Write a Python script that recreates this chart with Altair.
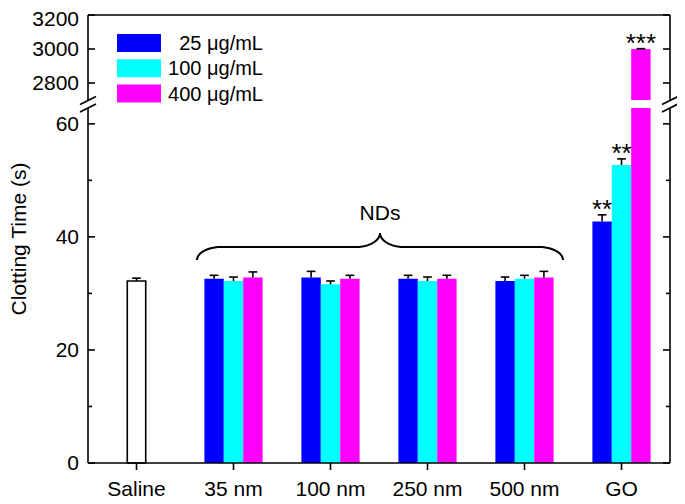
import math
import altair as alt
import pandas as pd

# ---------------- data ----------------
categories = ["Saline", "35 nm", "100 nm", "250 nm", "500 nm", "GO"]
series = ["25 μg/mL", "100 μg/mL", "400 μg/mL"]
colors = ["#0000FF", "#00FFFF", "#FF00FF"]

saline_mean = 32.2
saline_err = 0.5

# ND 35, 100, 250, 500 nm and GO
mean_25 = [32.6, 32.8, 32.6, 32.2, 42.7]
mean_100 = [32.2, 31.6, 32.2, 32.6, 52.7]
mean_400 = [32.8, 32.6, 32.6, 32.8, 3000]
err_25 = [0.6, 1.1, 0.6, 0.7, 1.2]
err_100 = [0.7, 0.6, 0.7, 0.6, 1.1]
err_400 = [1.0, 0.6, 0.6, 1.1, 2.0]

go_stars = ["**", "**", "***"]

y_ticks_major = [0, 20, 40, 60, 2800, 3000, 3200]
y_ticks_minor = [10, 30, 50]
y_title = "Clotting Time (s)"

BREAK_LOW = 62.8
BREAK_HIGH = 2700
Y_MAX = 3200

# ---------------- layout ----------------
W, H = 582, 448
FONT = "Liberation Sans"
LW = 1.6
BAR_W = 0.2
AX_FS = 21

y_scale = alt.Scale(domain=[0, BREAK_LOW, BREAK_HIGH, Y_MAX], range=[H, 93, 85, 0],
                    nice=False, zero=False)
x_scale = alt.Scale(domain=[-0.5, len(categories) - 0.5], nice=False, zero=False)
color_scale = alt.Scale(domain=series, range=colors)


def X(field, **kw):
    return alt.X(field, scale=x_scale, axis=None, **kw)


def Y(field, **kw):
    return alt.Y(field, scale=y_scale, axis=None, **kw)


means = [mean_25, mean_100, mean_400]
errs = [err_25, err_100, err_400]
rows = []
for s, name in enumerate(series):
    for i in range(len(categories) - 1):
        rows.append({"cat": i + 1, "sidx": s, "series": name,
                     "value": means[s][i], "err": errs[s][i]})
bars_df = pd.DataFrame(rows)
saline_df = pd.DataFrame([{"cat": 0, "sidx": -1, "series": "Saline",
                           "value": saline_mean, "err": saline_err}])
all_df = pd.concat([saline_df, bars_df], ignore_index=True)

# colored bars
bars = alt.Chart(bars_df).transform_calculate(
    x0=f"datum.cat + (datum.sidx - 1) * {BAR_W} - {BAR_W / 2}",
    x1=f"datum.cat + (datum.sidx - 1) * {BAR_W} + {BAR_W / 2}",
).mark_bar().encode(
    x=X("x0:Q"), x2="x1:Q",
    y=Y("value:Q"), y2=alt.Y2(datum=0),
    color=alt.Color("series:N", scale=color_scale, legend=None),
)

saline_bar = alt.Chart(saline_df).transform_calculate(
    x0="datum.cat - 0.095", x1="datum.cat + 0.095"
).mark_bar(fill="white", stroke="black", strokeWidth=LW).encode(
    x=X("x0:Q"), x2="x1:Q",
    y=Y("value:Q"), y2=alt.Y2(datum=0),
)

err_base = alt.Chart(all_df).transform_calculate(
    xc=f"datum.sidx < 0 ? datum.cat : datum.cat + (datum.sidx - 1) * {BAR_W}",
    top="datum.value + datum.err",
).transform_calculate(c0="datum.xc - 0.045", c1="datum.xc + 0.045")
err_stem = err_base.mark_rule(color="black", strokeWidth=LW).encode(
    x=X("xc:Q"), y=Y("value:Q"), y2="top:Q",
)
err_cap = err_base.mark_rule(color="black", strokeWidth=LW).encode(
    x=X("c0:Q"), x2="c1:Q", y=Y("top:Q"),
)

# white gap across the broken GO bar
gap_df = pd.DataFrame([{"cat": len(categories) - 1, "lo": BREAK_LOW, "hi": BREAK_HIGH}])
gap = alt.Chart(gap_df).transform_calculate(
    x0=f"datum.cat + {BAR_W / 2} - 0.02", x1=f"datum.cat + {1.5 * BAR_W} + 0.02"
).mark_rect(color="white").encode(
    x=X("x0:Q"), x2="x1:Q", y=Y("lo:Q"), y2="hi:Q",
)

# frame lines (broken left/right axes, top and bottom)
xl, xr = -0.5, len(categories) - 0.5
frame_df = pd.DataFrame([
    {"x": xl, "x2": xl, "y": 0, "y2": BREAK_LOW},
    {"x": xl, "x2": xl, "y": BREAK_HIGH, "y2": Y_MAX},
    {"x": xr, "x2": xr, "y": 0, "y2": BREAK_LOW},
    {"x": xr, "x2": xr, "y": BREAK_HIGH, "y2": Y_MAX},
    {"x": xl, "x2": xr, "y": Y_MAX, "y2": Y_MAX},
    {"x": xl, "x2": xr, "y": 0, "y2": 0},
])
frame = alt.Chart(frame_df).mark_rule(color="black", strokeWidth=LW).encode(
    x=X("x:Q"), x2="x2:Q", y=Y("y:Q"), y2="y2:Q",
)

# inward ticks on both vertical axes
tick_rows = []
for v in y_ticks_major:
    tick_rows += [{"v": v, "p0": 0, "p1": 7}, {"v": v, "p0": W - 7, "p1": W}]
for v in y_ticks_minor:
    tick_rows += [{"v": v, "p0": 0, "p1": 4}, {"v": v, "p0": W - 4, "p1": W}]
yticks = alt.Chart(pd.DataFrame(tick_rows)).mark_rule(color="black", strokeWidth=LW).encode(
    x=alt.X("p0:Q", scale=None), x2="p1:Q", y=Y("v:Q"),
)

# y tick labels (the top one nudged down so it stays inside the page)
ylab_df = pd.DataFrame({"v": y_ticks_major, "t": [str(v) for v in y_ticks_major]})
ylabels = alt.Chart(ylab_df).transform_filter(f"datum.v < {Y_MAX}").mark_text(
    font=FONT, fontSize=AX_FS, color="black", align="right", baseline="middle", dy=1
).encode(x=alt.value(-9), y=Y("v:Q"), text="t:N")
ylabel_top = alt.Chart(ylab_df).transform_filter(f"datum.v >= {Y_MAX}").mark_text(
    font=FONT, fontSize=AX_FS, color="black", align="right", baseline="middle", dy=4.5
).encode(x=alt.value(-9), y=Y("v:Q"), text="t:N")

# x ticks (outward) and labels
xcat_df = pd.DataFrame({"cat": list(range(len(categories))), "name": categories})
xticks = alt.Chart(xcat_df).mark_rule(color="black", strokeWidth=LW).encode(
    x=X("cat:Q"), y=alt.value(H), y2=alt.value(H + 7),
)
xlabels = alt.Chart(xcat_df).mark_text(
    font=FONT, fontSize=AX_FS, color="black", align="center", baseline="alphabetic"
).encode(x=X("cat:Q"), y=alt.value(H + 33), text="name:N")

ytitle = alt.Chart(pd.DataFrame({"t": [y_title]})).mark_text(
    font=FONT, fontSize=AX_FS, color="black", align="center", baseline="middle", angle=270
).encode(x=alt.value(-68), y=alt.value(H / 2), text="t:N")

# break marks "//"
brk_rows = []
for bx in (0, W):
    for off in (0, 7.5):
        brk_rows.append({"px0": bx - 8, "px1": bx + 8, "py0": 89.5 + off, "py1": 81.5 + off})
breaks = alt.Chart(pd.DataFrame(brk_rows)).mark_rule(color="black", strokeWidth=LW).encode(
    x=alt.X("px0:Q", scale=None), x2="px1:Q",
    y=alt.Y("py0:Q", scale=None), y2="py1:Q",
)

# significance stars above GO bars
star_df = pd.DataFrame([{"sidx": s, "cat": len(categories) - 1,
                         "value": means[s][-1], "err": errs[s][-1], "label": go_stars[s]}
                        for s in range(len(series))])
stars = alt.Chart(star_df).transform_calculate(
    xc=f"datum.cat + (datum.sidx - 1) * {BAR_W}", top="datum.value + datum.err"
).mark_text(font=FONT, fontSize=26, color="black", baseline="alphabetic", align="center",
            dy=3).encode(
    x=X("xc:Q"), y=Y("top:Q"), text="label:N",
)

# brace over ND groups
BR_L, BR_R, BR_END, BR_FLAT, BR_TIP = 109, 475, 245, 232, 218
RX, RY = 24, 13
mid = (BR_L + BR_R) / 2
pts = []
n = 12
for k in range(n + 1):
    t = k / n * math.pi / 2
    pts.append((BR_L + RX - RX * math.cos(t), BR_END - RY * math.sin(t)))
for k in range(n + 1):
    t = k / n * math.pi / 2
    pts.append((mid - RX + RX * math.sin(t), BR_TIP + (BR_FLAT - BR_TIP) * math.cos(t)))
for k in range(n + 1):
    t = k / n * math.pi / 2
    pts.append((mid + RX - RX * math.cos(t), BR_TIP + (BR_FLAT - BR_TIP) * math.sin(t)))
for k in range(n + 1):
    t = k / n * math.pi / 2
    pts.append((BR_R - RX + RX * math.sin(t), BR_END - RY * math.cos(t)))
brace_df = pd.DataFrame([{"o": i, "bx": p[0], "by": p[1]} for i, p in enumerate(pts)])
brace = alt.Chart(brace_df).mark_line(color="black", strokeWidth=2).encode(
    x=alt.X("bx:Q", scale=None), y=alt.Y("by:Q", scale=None), order="o:Q",
)
nds = alt.Chart(pd.DataFrame([{"t": "NDs", "px": mid, "py": 205}])).mark_text(
    font=FONT, fontSize=AX_FS, color="black", align="center", baseline="alphabetic"
).encode(x=alt.X("px:Q", scale=None), y=alt.Y("py:Q", scale=None), text="t:N")

# legend (manual, inside plot)
leg_df = pd.DataFrame([{"series": name, "row": i} for i, name in enumerate(series)])
leg_base = alt.Chart(leg_df).transform_calculate(
    y0="19 + datum.row * 25.3", y1="37 + datum.row * 25.3", ym="28 + datum.row * 25.3"
)
leg_rect = leg_base.mark_rect().encode(
    x=alt.X(datum=29, scale=None), x2=alt.X2(datum=73),
    y=alt.Y("y0:Q", scale=None), y2="y1:Q",
    color=alt.Color("series:N", scale=color_scale, legend=None),
)
leg_text = leg_base.mark_text(font=FONT, fontSize=20, color="black", align="right",
                              baseline="middle", dy=1).encode(
    x=alt.X(datum=175, scale=None),
    y=alt.Y("ym:Q", scale=None),
    text="series:N",
)

chart = alt.layer(
    bars, saline_bar, err_stem, err_cap, gap, frame, yticks, ylabels, ylabel_top,
    xticks, xlabels, ytitle, breaks, stars, brace, nds, leg_rect, leg_text,
).properties(
    width=W, height=H,
    autosize=alt.AutoSizeParams(type="none"),
    padding={"left": 80, "top": 7, "right": 7, "bottom": 41},
).configure_view(stroke=None)

chart.save("out.html", embed_options={"renderer": "svg", "actions": False})
